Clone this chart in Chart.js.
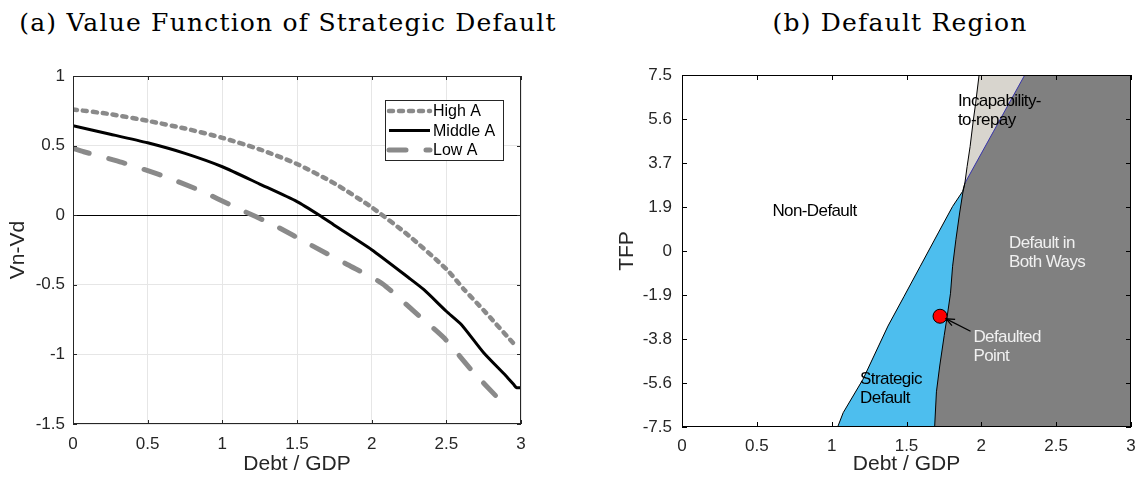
<!DOCTYPE html>
<html>
<head>
<meta charset="utf-8">
<script src="https://cdn.jsdelivr.net/npm/chart.js@4.4.1/dist/chart.umd.min.js"></script>
<style>
  html, body { margin: 0; padding: 0; background: #fff; }
  body { width: 1139px; height: 479px; position: relative; overflow: hidden; }
  .title { position: absolute; top: 8px; font-family: 'DejaVu Serif', serif; font-size: 25px; letter-spacing: 1.2px; line-height: 30px; white-space: nowrap; color: #000; transform: translateX(-50%); }
  .panel { position: absolute; top: 0; height: 479px; }
</style>
</head>
<body>
<div class="title" style="left:288px">(a) Value Function of Strategic Default</div>
<div class="title" style="left:900px">(b) Default Region</div>
<div class="panel" style="left:0;width:570px"><canvas id="valueChart"></canvas></div>
<div class="panel" style="left:570px;width:569px"><canvas id="regionChart"></canvas></div>
<script>
// (a) Vn - Vd against debt / GDP, one curve per TFP level
const debtHigh = [0, 0.25, 0.5, 0.75, 1, 1.25, 1.5, 1.75, 2, 2.25, 2.5, 2.62, 2.75, 2.97]
const valHigh = [0.76, 0.726, 0.678, 0.623, 0.556, 0.473, 0.368, 0.229, 0.057, -0.148, -0.387, -0.535, -0.683, -0.945]
const debtMid = [0, 0.25, 0.5, 0.75, 1, 1.25, 1.5, 1.65, 1.75, 2, 2.25, 2.35, 2.5, 2.6, 2.75, 2.9, 2.95, 2.97, 3]
const valMid = [0.642, 0.582, 0.52, 0.444, 0.348, 0.224, 0.098, 0, -0.072, -0.248, -0.451, -0.535, -0.69, -0.785, -0.988, -1.155, -1.215, -1.239, -1.239]
const debtLow = [0, 0.072, 0.329, 0.585, 0.847, 1.088, 1.351, 1.589, 1.84, 2.072, 2.282, 2.484, 2.668, 2.847, 2.902]
const valLow = [0.48, 0.456, 0.379, 0.289, 0.179, 0.057, -0.074, -0.212, -0.356, -0.492, -0.69, -0.881, -1.112, -1.315, -1.37]
const seriesNames = ['High A', 'Middle A', 'Low A']

// (b) region boundaries in (debt/GDP, TFP)
const ndLowDebt = [1.04, 1.077, 1.209, 1.376, 1.484, 1.592, 1.712, 1.808, 1.875, 1.89]
const ndLowTfp = [-7.5, -6.89, -5.47, -3.2, -1.93, -0.65, 0.77, 1.9, 2.54, 2.89]
const ndHighDebt = [1.89, 1.905, 1.925, 1.945, 1.962, 1.985]
const ndHighTfp = [2.89, 3.6, 4.45, 5.5, 6.3, 7.5]
const sdEdgeDebt = [1.688, 1.7, 1.722, 1.752, 1.772, 1.794, 1.808, 1.83, 1.855, 1.876, 1.89]
const sdEdgeTfp = [-7.5, -6.0, -4.9, -3.6, -2.78, -1.8, -0.65, 0.48, 1.62, 2.47, 2.89]
const icEdgeDebt = [1.89, 2.08, 2.29]
const icEdgeTfp = [2.89, 5.08, 7.5]
const defaultedDebt = [1.724]
const defaultedTfp = [-2.78]
const arrowDebt = [1.928, 1.765]
const arrowTfp = [-3.42, -2.89]
const debtTicks = [0, 0.5, 1, 1.5, 2, 2.5, 3]
const tfpTicks = [-7.5, -5.625, -3.75, -1.875, 0, 1.875, 3.75, 5.625, 7.5]
const tfpTickLabels = ['-7.5', '-5.6', '-3.8', '-1.9', '0', '1.9', '3.7', '5.6', '7.5']
const regionNotes = [
    { lines: ['Non-Default'], debt: 0.885, tfp: 1.69, align: 'center', light: false },
    { lines: ['Incapability-', 'to-repay'], debt: 1.844, tfp: 6.37, align: 'left', light: false },
    { lines: ['Default in', 'Both Ways'], debt: 2.185, tfp: 0.31, align: 'left', light: true },
    { lines: ['Defaulted', 'Point'], debt: 1.947, tfp: -3.66, align: 'left', light: true },
    { lines: ['Strategic', 'Default'], debt: 1.19, tfp: -5.47, align: 'left', light: false }
]

const toPoints = (xs, ys) => xs.map((x, i) => ({ x, y: ys[i] }))
const tickFont = { family: 'Liberation Sans', size: 17 }
const titleFont = { family: 'Liberation Sans', size: 21 }
const inkColor = '#262626'
const plainNumber = v => String(Math.round(v * 1000) / 1000)

// box round the plot with inward tick marks, like matlab
const boxPlugin = {
    id: 'matlabBox',
    afterDatasetsDraw(chart, args, opts) {
        const { ctx, chartArea: a, scales: { x, y } } = chart
        ctx.save()
        ctx.strokeStyle = opts.color
        ctx.lineWidth = 1
        ctx.beginPath()
        x.ticks.forEach(t => {
            const px = Math.round(x.getPixelForValue(t.value)) + 0.5
            ctx.moveTo(px, a.bottom); ctx.lineTo(px, a.bottom - opts.tick)
            ctx.moveTo(px, a.top); ctx.lineTo(px, a.top + opts.tick)
        })
        y.ticks.forEach(t => {
            const py = Math.round(y.getPixelForValue(t.value)) + 0.5
            ctx.moveTo(a.left, py); ctx.lineTo(a.left + opts.tick, py)
            ctx.moveTo(a.right, py); ctx.lineTo(a.right - opts.tick, py)
        })
        ctx.stroke()
        ctx.strokeRect(Math.round(a.left) + 0.5, Math.round(a.top) + 0.5, Math.round(a.width) - 1, Math.round(a.height) - 1)
        ctx.restore()
    }
}

// legend box inside the plot, samples use the dataset line style
const lineLegend = {
    id: 'lineLegend',
    afterDraw(chart, args, opts) {
        const { ctx, chartArea: a } = chart
        const left = a.right - opts.right - opts.width
        const top = a.top + opts.top
        ctx.save()
        ctx.fillStyle = '#fff'
        ctx.fillRect(left, top, opts.width, opts.height)
        ctx.strokeStyle = inkColor
        ctx.lineWidth = 1
        ctx.strokeRect(Math.round(left) + 0.5, Math.round(top) + 0.5, opts.width, opts.height)
        chart.data.datasets.forEach((ds, i) => {
            const yy = top + opts.first + i * opts.gap
            ctx.beginPath()
            ctx.strokeStyle = ds.borderColor
            ctx.lineWidth = ds.borderWidth
            ctx.lineCap = ds.borderCapStyle || 'butt'
            ctx.setLineDash(ds.borderDash || [])
            ctx.moveTo(left + 4, yy)
            ctx.lineTo(left + 45, yy)
            ctx.stroke()
            ctx.setLineDash([])
            ctx.fillStyle = '#000'
            ctx.font = '16px "Liberation Sans"'
            ctx.textBaseline = 'middle'
            ctx.textAlign = 'left'
            ctx.fillText(ds.label, left + 48, yy + 1)
        })
        ctx.restore()
    }
}

new Chart(document.getElementById('valueChart'), {
    type: 'line',
    data: {
        datasets: [{
            label: seriesNames[0],
            data: toPoints(debtHigh, valHigh),
            borderColor: '#8a8a8a',
            borderWidth: 4.5,
            borderDash: [4, 6],
            borderCapStyle: 'round'
        }, {
            label: seriesNames[1],
            data: toPoints(debtMid, valMid),
            borderColor: '#000',
            borderWidth: 3
        }, {
            label: seriesNames[2],
            data: toPoints(debtLow, valLow),
            borderColor: '#8a8a8a',
            borderWidth: 5,
            borderDash: [17, 20],
            borderCapStyle: 'round'
        }]
    },
    options: {
        animation: false,
        responsive: true,
        maintainAspectRatio: false,
        events: [],
        layout: { padding: { left: 0, top: 76, right: 49, bottom: 0 } },
        elements: { point: { radius: 0 }, line: { tension: 0.2, borderJoinStyle: 'round' } },
        scales: {
            x: {
                type: 'linear', min: 0, max: 3,
                ticks: { stepSize: 0.5, padding: 10, color: inkColor, font: tickFont, maxRotation: 0, callback: plainNumber },
                grid: { color: '#e6e6e6', drawTicks: false },
                border: { display: false },
                title: { display: true, text: 'Debt / GDP', color: inkColor, font: titleFont, padding: { top: 0, bottom: 2 } },
                afterFit: s => { s.height = 55 }
            },
            y: {
                min: -1.5, max: 1,
                ticks: { stepSize: 0.5, padding: 8, color: inkColor, font: tickFont, callback: plainNumber },
                grid: { color: c => c.tick.value === 0 ? '#000' : '#e6e6e6', drawTicks: false },
                border: { display: false },
                title: { display: true, text: 'Vn-Vd', color: inkColor, font: titleFont, padding: { top: 6, bottom: 0 } },
                afterFit: s => { s.width = 73 }
            }
        },
        plugins: {
            legend: { display: false },
            tooltip: { enabled: false },
            matlabBox: { color: inkColor, tick: 4 },
            lineLegend: { right: 18, top: 24, width: 118, height: 60, first: 11, gap: 19.5 }
        }
    },
    plugins: [boxPlugin, lineLegend]
})

// region texts and the arrow head, placed through the scales
const regionText = {
    id: 'regionText',
    afterDatasetsDraw(chart, args, opts) {
        const { ctx, scales: { x, y } } = chart
        ctx.save()
        ctx.font = '17px "Liberation Sans"'
        ctx.letterSpacing = '-0.6px'
        ctx.textBaseline = 'middle'
        regionNotes.forEach(n => {
            ctx.fillStyle = n.light ? '#f0f0f0' : '#000'
            ctx.textAlign = n.align
            n.lines.forEach((line, i) => {
                ctx.fillText(line, x.getPixelForValue(n.debt), y.getPixelForValue(n.tfp) + i * opts.lineGap)
            })
        })
        const tx = x.getPixelForValue(arrowDebt[1]), ty = y.getPixelForValue(arrowTfp[1])
        const sx = x.getPixelForValue(arrowDebt[0]), sy = y.getPixelForValue(arrowTfp[0])
        const ang = Math.atan2(ty - sy, tx - sx)
        ctx.strokeStyle = '#000'
        ctx.lineWidth = 1.3
        ctx.beginPath()
        ctx.moveTo(tx - 9 * Math.cos(ang - 0.4), ty - 9 * Math.sin(ang - 0.4))
        ctx.lineTo(tx, ty)
        ctx.lineTo(tx - 9 * Math.cos(ang + 0.4), ty - 9 * Math.sin(ang + 0.4))
        ctx.stroke()
        ctx.restore()
    }
}

const topRight = { x: debtTicks[debtTicks.length - 1], y: tfpTicks[tfpTicks.length - 1] }
const ndEdge = toPoints(ndLowDebt, ndLowTfp).concat(toPoints(ndHighDebt, ndHighTfp).slice(1))
const icEdge = toPoints(icEdgeDebt, icEdgeTfp)
const sdEdge = toPoints(sdEdgeDebt, sdEdgeTfp)
const fillStyle = { borderWidth: 0, fill: 'start', tension: 0 }

new Chart(document.getElementById('regionChart'), {
    type: 'line',
    data: {
        datasets: [{
            // incapability-to-repay, bottom layer
            data: ndEdge.concat([topRight]), backgroundColor: 'rgb(216,213,206)', order: 10, ...fillStyle
        }, {
            // strategic default
            data: toPoints(ndLowDebt, ndLowTfp).concat(icEdge.slice(1), [topRight]), backgroundColor: 'rgb(77,190,238)', order: 9, ...fillStyle
        }, {
            // default in both ways
            data: sdEdge.concat(icEdge.slice(1), [topRight]), backgroundColor: 'rgb(128,128,128)', order: 8, ...fillStyle
        }, {
            data: ndEdge, borderColor: '#000', borderWidth: 1, fill: false, order: 5
        }, {
            data: sdEdge, borderColor: '#000', borderWidth: 1, fill: false, order: 5
        }, {
            data: icEdge, borderColor: '#3b33a8', borderWidth: 1, fill: false, order: 5
        }, {
            data: toPoints(arrowDebt, arrowTfp), borderColor: '#000', borderWidth: 1.3, fill: false, order: 4
        }, {
            data: toPoints(defaultedDebt, defaultedTfp), showLine: false, pointRadius: 7,
            backgroundColor: '#ff0000', borderColor: '#000', borderWidth: 1, order: 1
        }]
    },
    options: {
        animation: false,
        responsive: true,
        maintainAspectRatio: false,
        events: [],
        layout: { padding: { left: 0, top: 75, right: 8, bottom: 0 } },
        elements: { point: { radius: 0 }, line: { tension: 0 } },
        scales: {
            x: {
                type: 'linear', min: 0, max: 3,
                afterBuildTicks: s => { s.ticks = debtTicks.map(v => ({ value: v })) },
                ticks: { padding: 9, color: inkColor, font: tickFont, maxRotation: 0, callback: plainNumber },
                grid: { display: false, drawTicks: false },
                border: { display: false },
                title: { display: true, text: 'Debt / GDP', color: inkColor, font: titleFont, padding: { top: 0, bottom: 2 } },
                afterFit: s => { s.height = 52; s.paddingRight = 0 }
            },
            y: {
                min: -7.5, max: 7.5,
                afterBuildTicks: s => { s.ticks = tfpTicks.map(v => ({ value: v })) },
                ticks: { padding: 10, color: inkColor, font: tickFont, callback: v => tfpTickLabels[tfpTicks.indexOf(v)] },
                grid: { display: false, drawTicks: false },
                border: { display: false },
                title: { display: true, text: 'TFP', color: inkColor, font: titleFont, padding: { top: 45, bottom: 0 } },
                afterFit: s => { s.width = 112 }
            }
        },
        plugins: {
            legend: { display: false },
            tooltip: { enabled: false },
            matlabBox: { color: '#000', tick: 5 },
            regionText: { lineGap: 19 }
        }
    },
    plugins: [boxPlugin, regionText]
})
</script>
</body>
</html>
